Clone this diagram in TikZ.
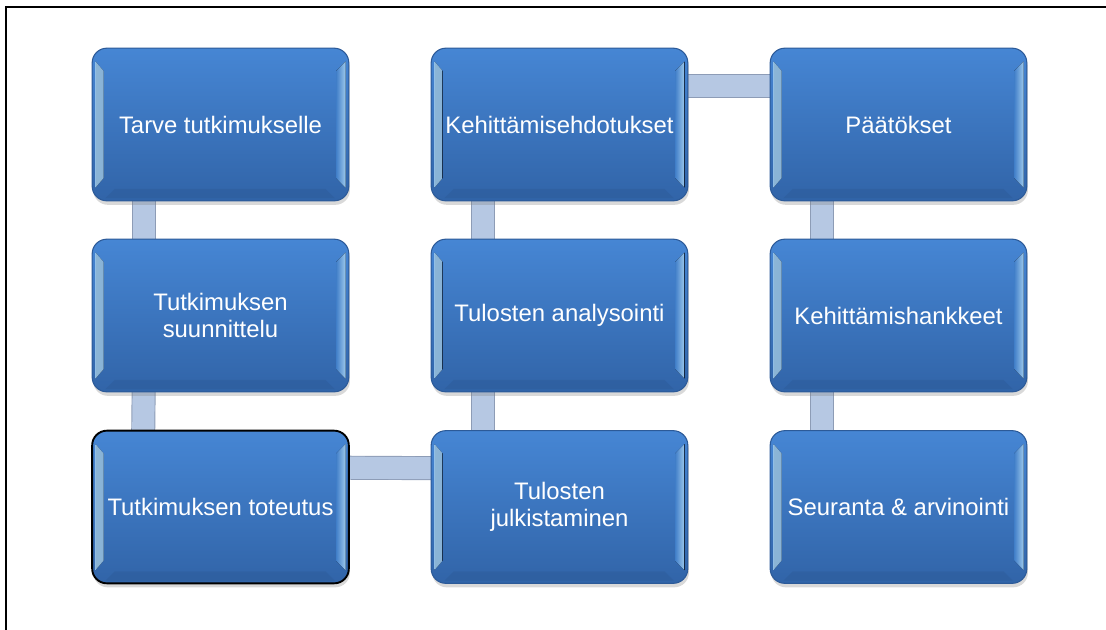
\documentclass[tikz,border=0pt]{standalone}
\usepackage{fontspec}
\setmainfont{Liberation Sans}
\usepackage{tikz}
\usetikzlibrary{positioning,backgrounds,shadows}
\definecolor{stgtop}{HTML}{4686D4}
\definecolor{stgbot}{HTML}{3164A8}
\definecolor{stgedge}{HTML}{2C5A98}
\definecolor{bevlite}{HTML}{A4D3F8}
\definecolor{barfill}{HTML}{B6C8E3}
\definecolor{baredge}{HTML}{8D9CB6}

\begin{document}
\begin{tikzpicture}[x=0.75pt, y=-0.75pt,
  font=\fontsize{17.9}{20.6}\selectfont,
  every shadow/.style={shadow xshift=0.8pt, shadow yshift=-3pt, opacity=0.3},
  stage/.style={draw=stgedge, line width=0.8pt, rounded corners=11pt, align=center, text=white,
    minimum width=192.5pt, minimum height=114.5pt, inner sep=0pt,
    top color=stgtop, bottom color=stgbot, drop shadow,
    path picture={
      \fill[sharp corners, left color=bevlite, right color=stgtop, opacity=0.85]
        ([xshift=2.5pt, yshift=-10pt]path picture bounding box.north west) -- ++(6pt,-7pt)
        -- ([xshift=8.5pt, yshift=17pt]path picture bounding box.south west) -- ++(-6pt,-7pt) -- cycle;
      \fill[sharp corners, left color=stgtop, right color=bevlite, opacity=0.95]
        ([xshift=-2.5pt, yshift=-10pt]path picture bounding box.north east) -- ++(-7pt,-7pt)
        -- ([xshift=-9.5pt, yshift=17pt]path picture bounding box.south east) -- ++(7pt,-7pt) -- cycle;
      \fill[sharp corners, stgbot!85!black, opacity=0.3]
        ([xshift=10pt, yshift=2pt]path picture bounding box.south west) -- ++(172pt,0pt)
        -- ++(-7pt,7pt) -- ([xshift=17pt, yshift=9pt]path picture bounding box.south west) -- cycle;
    }},
  picked/.style={stage, draw=black, line width=1.4pt},
  bar/.style={draw=baredge, line width=0.7pt, double=barfill, double distance=16.6pt, shorten <=-2pt, shorten >=-2pt}
]
\useasboundingbox (0,0) rectangle (1106,629);
% ================= page frame, open at right and bottom =================
\draw[line width=1.7pt] (6,640) -- (6,7) -- (1115,7);
% ================= column 1 =================
\node[stage]  (tarve) at (220.5,124.5) {Tarve tutkimukselle};
\node[stage]  (suunn) at (220.5,315.5) {Tutkimuksen\\suunnittelu};
\node[picked] (toteu) at (220.5,507.0) {Tutkimuksen toteutus};
% ================= column 2 =================
\node[stage] (kehed) at (559.5,124.5) {Kehittämisehdotukset};
\node[stage] (analy) at (559.5,315.5) {Tulosten analysointi};
\node[stage] (julki) at (559.5,507.0) {Tulosten\\julkistaminen};
% ================= column 3 =================
\node[stage] (paato) at (898.5,124.5) {Päätökset};
\node[stage] (hanke) at (898.5,315.5) {Kehittämishankkeet};
\node[stage] (seura) at (898.5,507.0) {Seuranta \& arvinointi};
% ================= connecting bars =================
\begin{scope}[on background layer]
\draw[bar] ([xshift=39pt]tarve.south west) -- ([xshift=39pt]suunn.north west);
\draw[bar] ([xshift=39pt]suunn.south west) -- ([xshift=39pt]toteu.north west);
\draw[bar] ([yshift=-28.5pt]toteu.north east) -- ([yshift=-28.5pt]julki.north west);
\draw[bar] ([xshift=39pt]julki.north west) -- ([xshift=39pt]analy.south west);
\draw[bar] ([xshift=39pt]analy.north west) -- ([xshift=39pt]kehed.south west);
\draw[bar] ([yshift=-28.5pt]kehed.north east) -- ([yshift=-28.5pt]paato.north west);
\draw[bar] ([xshift=39pt]paato.south west) -- ([xshift=39pt]hanke.north west);
\draw[bar] ([xshift=39pt]hanke.south west) -- ([xshift=39pt]seura.north west);
\end{scope}
\end{tikzpicture}
\end{document}
